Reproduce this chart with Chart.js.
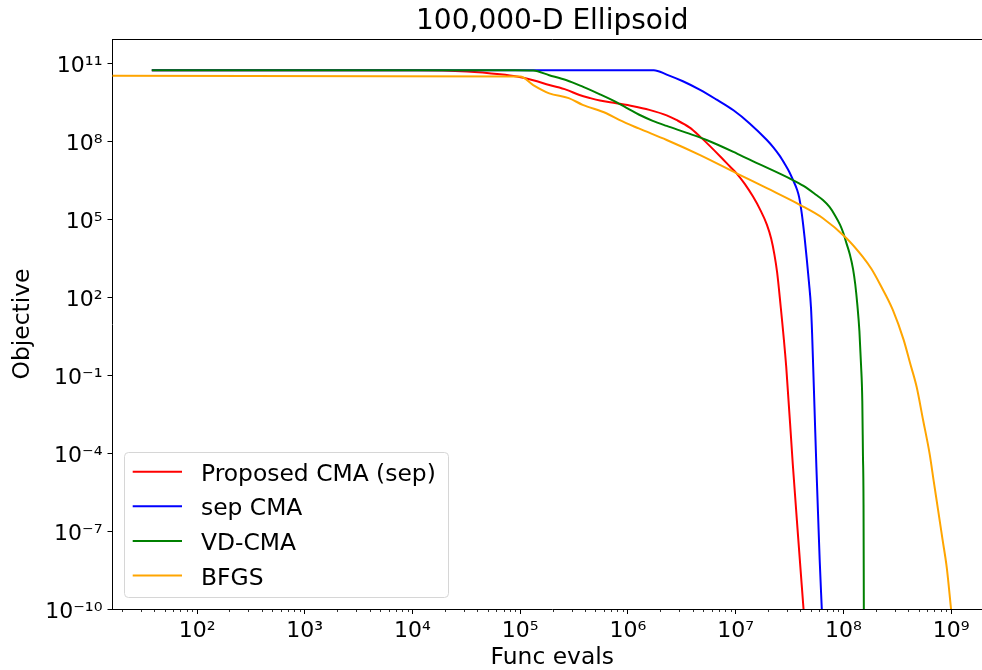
<!DOCTYPE html>
<html><head><meta charset="utf-8">
<script src="https://cdn.jsdelivr.net/npm/chart.js@4/dist/chart.umd.min.js"></script>
<style>
html,body{margin:0;padding:0;overflow:hidden;background:#fff;width:982px;height:670px}
#wrap{position:absolute;left:0;top:0;width:992px;height:670px}
</style>
</head><body><div id="wrap"><canvas id="c" width="992" height="670"></canvas></div>
<script>
const chartTitle = '100,000-D Ellipsoid';
const xAxisLabel = 'Func evals';
const yAxisLabel = 'Objective';
const seriesNames = ['Proposed CMA (sep)', 'sep CMA', 'VD-CMA', 'BFGS'];
const seriesColors = ['#ff0000', '#0000ff', '#008000', '#ffa500'];

const proposedX = [38, 1.1e4, 3.2e4, 6.5e4, 9.3e4, 1.32e5, 1.86e5, 2.7e5, 3.55e5, 4.47e5, 5.5e5, 7.8e5, 1.12e6, 1.58e6, 2.29e6, 2.82e6, 3.72e6, 4.68e6, 5.75e6, 7.24e6, 8.9e6, 1.02e7, 1.22e7, 1.45e7, 1.68e7, 1.95e7, 2.14e7, 2.29e7, 2.43e7, 2.57e7, 2.95e7, 3.39e7, 3.8e7, 4.27e7];
const proposedY = [5.6e10, 5.6e10, 5.0e10, 3.9e10, 3.2e10, 2.3e10, 1.5e10, 9.8e9, 6.2e9, 4.7e9, 3.8e9, 3.0e9, 2.3e9, 1.66e9, 1.02e9, 6.8e8, 3.5e8, 1.55e8, 6.8e7, 2.6e7, 1.07e7, 6.0e6, 2.3e6, 7.6e5, 2.5e5, 6.3e4, 1.8e4, 4.5e3, 8.9e2, 1e2, 0.21, 4e-5, 6.3e-8, 1e-10];

const sepX = [38, 1.74e6, 2.29e6, 3.24e6, 4.68e6, 6.61e6, 9.55e6, 1.35e7, 1.95e7, 2.24e7, 2.57e7, 2.88e7, 3.16e7, 3.39e7, 3.72e7, 3.89e7, 4.12e7, 4.37e7, 4.57e7, 4.79e7, 5.01e7, 5.13e7, 5.25e7, 5.43e7, 5.62e7, 5.82e7, 6.03e7, 6.31e7];
const sepY = [5.6e10, 5.6e10, 3.8e10, 2.1e10, 9.8e9, 4.2e9, 1.6e9, 5.0e8, 1.15e8, 6.0e7, 2.8e7, 1.3e7, 6.6e6, 3.5e6, 1.4e6, 7.1e5, 1.6e5, 2e4, 3.2e3, 4e2, 40, 4, 0.21, 2.6e-3, 3.0e-5, 5e-7, 7.9e-9, 1e-10];

const vdX = [38, 9e4, 1.32e5, 1.86e5, 2.7e5, 3.8e5, 5.5e5, 7.8e5, 1.0e6, 1.26e6, 1.7e6, 2.29e6, 3.47e6, 5.37e6, 9.55e6, 1.35e7, 3.39e7, 4.27e7, 5.62e7, 6.46e7, 7.41e7, 8.32e7, 9.33e7, 1.0e8, 1.07e8, 1.15e8, 1.23e8, 1.29e8, 1.35e8, 1.41e8, 1.46e8, 1.5e8, 1.52e8, 1.54e8, 1.55e8];
const vdY = [5.6e10, 5.6e10, 5.4e10, 3.6e10, 2.3e10, 1.3e10, 6.6e9, 3.3e9, 1.86e9, 1.1e9, 6.3e8, 4.0e8, 2.2e8, 1.15e8, 4.0e7, 2.0e7, 3.3e6, 1.95e6, 8.7e5, 5.6e5, 3.1e5, 1.5e5, 6.2e4, 3.0e4, 1.2e4, 4.5e3, 1.26e3, 3.2e2, 50, 5, 0.25, 1e-2, 1e-4, 1e-6, 1e-10];

const bfgsX = [10, 1.0e5, 1.32e5, 1.86e5, 2.82e5, 3.8e5, 6.3e5, 8.3e5, 1.26e6, 2.29e6, 4.68e6, 1.02e7, 1.95e7, 3.98e7, 6.46e7, 1.07e8, 1.51e8, 1.82e8, 2.19e8, 2.88e8, 3.63e8, 4.17e8, 4.79e8, 5.5e8, 6.31e8, 6.92e8, 7.59e8, 8.32e8, 9.12e8, 1.0e9];
const bfgsY = [3.4e10, 3.2e10, 1.5e10, 7.2e9, 4.7e9, 2.6e9, 1.23e9, 6.8e8, 3.2e8, 1.15e8, 3.0e7, 6.0e6, 1.6e6, 3.6e5, 1.12e5, 1.9e4, 3.7e3, 1.26e3, 3.2e2, 33, 2.3, 0.29, 3.6e-2, 1.9e-3, 1e-4, 7.9e-6, 6.3e-7, 5e-8, 4e-9, 1e-10];

const xTickValues = [1e2, 1e3, 1e4, 1e5, 1e6, 1e7, 1e8, 1e9];
const xTickLabels = ['10²', '10³', '10⁴', '10⁵', '10⁶', '10⁷', '10⁸', '10⁹'];
const yTickValues = [1e-10, 1e-7, 1e-4, 1e-1, 1e2, 1e5, 1e8, 1e11];
const yTickLabels = ['10⁻¹⁰', '10⁻⁷', '10⁻⁴', '10⁻¹', '10²', '10⁵', '10⁸', '10¹¹'];

const seriesX = [proposedX, sepX, vdX, bfgsX];
const seriesY = [proposedY, sepY, vdY, bfgsY];

Chart.defaults.font.family = "'DejaVu Sans', sans-serif";
Chart.defaults.color = '#000';

const framePlugin = {
  id: 'frame',
  afterDraw(chart) {
    const {ctx, chartArea: a, scales} = chart;
    const x = scales.x;
    ctx.save();
    ctx.strokeStyle = '#000';
    ctx.lineWidth = 1;
    ctx.beginPath();
    ctx.moveTo(a.left, Math.round(a.top) + 0.5);
    ctx.lineTo(a.right, Math.round(a.top) + 0.5);
    ctx.stroke();
    ctx.lineWidth = 0.8;
    ctx.beginPath();
    for (let k = 0; k <= 9; k++) {
      for (let m = 2; m <= 9; m++) {
        const v = m * Math.pow(10, k);
        if (v < x.min || v > x.max) continue;
        const px = Math.round(x.getPixelForValue(v)) + 0.5;
        ctx.moveTo(px, a.bottom);
        ctx.lineTo(px, a.bottom + 3);
      }
    }
    ctx.stroke();
    ctx.restore();
  }
};

const legendPlugin = {
  id: 'boxLegend',
  afterDraw(chart) {
    const {ctx} = chart;
    const bx = 124.5, by = 452.5, bw = 324, bh = 145, r = 4;
    ctx.save();
    ctx.beginPath();
    ctx.moveTo(bx + r, by);
    ctx.lineTo(bx + bw - r, by);
    ctx.quadraticCurveTo(bx + bw, by, bx + bw, by + r);
    ctx.lineTo(bx + bw, by + bh - r);
    ctx.quadraticCurveTo(bx + bw, by + bh, bx + bw - r, by + bh);
    ctx.lineTo(bx + r, by + bh);
    ctx.quadraticCurveTo(bx, by + bh, bx, by + bh - r);
    ctx.lineTo(bx, by + r);
    ctx.quadraticCurveTo(bx, by, bx + r, by);
    ctx.closePath();
    ctx.fillStyle = 'rgba(255,255,255,0.8)';
    ctx.fill();
    ctx.strokeStyle = '#d6d6d6';
    ctx.lineWidth = 1;
    ctx.stroke();
    ctx.font = "23.4px 'DejaVu Sans', sans-serif";
    ctx.textBaseline = 'alphabetic';
    ctx.textAlign = 'left';
    chart.data.datasets.forEach((ds, i) => {
      const y = 471.7 + i * 34.6;
      ctx.strokeStyle = ds.borderColor;
      ctx.lineWidth = 2;
      ctx.beginPath();
      ctx.moveTo(132.7, y);
      ctx.lineTo(182, y);
      ctx.stroke();
      ctx.fillStyle = '#000';
      ctx.fillText(ds.label, 201, y + 9);
    });
    ctx.restore();
  }
};

new Chart(document.getElementById('c'), {
  type: 'scatter',
  data: {
    datasets: seriesNames.map((name, i) => ({
      label: name,
      data: seriesX[i].map((xv, j) => ({x: xv, y: seriesY[i][j]})),
      showLine: true,
      borderColor: seriesColors[i],
      backgroundColor: seriesColors[i],
      borderWidth: 2,
      pointRadius: 0,
      pointHoverRadius: 0,
      cubicInterpolationMode: 'monotone',
      order: seriesNames.length - i
    }))
  },
  options: {
    responsive: false,
    animation: false,
    devicePixelRatio: 1,
    layout: {padding: 0},
    plugins: {
      legend: {display: false},
      tooltip: {enabled: false},
      title: {
        display: true, text: chartTitle, fullSize: false, color: '#000',
        font: {size: 28, weight: 'normal', lineHeight: 1.2},
        padding: {top: 4.9, bottom: 0.5}
      }
    },
    scales: {
      x: {
        type: 'logarithmic', min: 16.4, max: 2.4e9, bounds: 'data',
        afterBuildTicks: s => { s.ticks = xTickValues.map(v => ({value: v})); },
        afterFit: s => { s.height = 61; },
        grid: {drawOnChartArea: false, drawTicks: true, tickLength: 5, tickColor: '#000', tickWidth: 1},
        border: {display: true, color: '#000', width: 1},
        ticks: {autoSkip: false, maxRotation: 0, minRotation: 0, padding: 3.6, color: '#000',
          font: {size: 22}, callback: (v, i) => xTickLabels[i]},
        title: {display: true, text: xAxisLabel, color: '#000', font: {size: 23.4, lineHeight: 1}, padding: {top: 0, bottom: 0.3}}
      },
      y: {
        type: 'logarithmic', min: 1e-10, max: 8.9e11, bounds: 'data',
        afterBuildTicks: s => { s.ticks = yTickValues.map(v => ({value: v})); },
        afterFit: s => { s.width = 112.5; },
        grid: {drawOnChartArea: false, drawTicks: true, tickLength: 5, tickColor: '#000', tickWidth: 1},
        border: {display: true, color: '#000', width: 1},
        ticks: {autoSkip: false, padding: 5, color: '#000', labelOffset: 3,
          font: {size: 22}, callback: (v, i) => yTickLabels[i]},
        title: {display: true, text: yAxisLabel, color: '#000', font: {size: 23.4, lineHeight: 1}, padding: {top: 11, bottom: 0}}
      }
    }
  },
  plugins: [framePlugin, legendPlugin]
});
</script>
</body></html>
